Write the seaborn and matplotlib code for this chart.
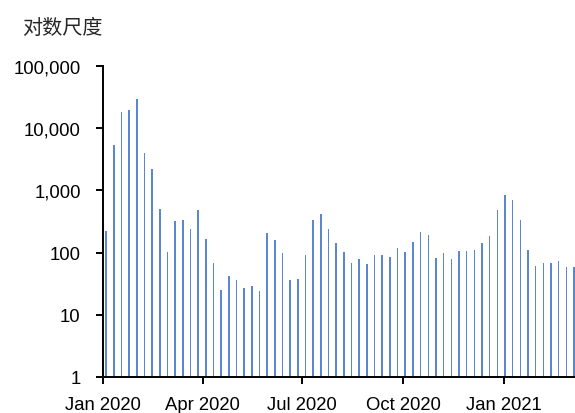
import matplotlib
matplotlib.use("Agg")
import matplotlib.pyplot as plt
import matplotlib.dates as mdates
import matplotlib.ticker as mticker
import numpy as np
import pandas as pd
import seaborn as sns

# Weekly counts, starting the first Saturday of 2020
start_date = "2020-01-04"
weekly_counts = [
    223, 5400, 18000, 20000, 30000, 4000, 2200, 500, 102, 320,
    330, 240, 480, 165, 68, 25, 42, 36, 27, 29,
    24, 210, 160, 100, 36, 37, 93, 340, 420, 240,
    145, 104, 67, 78, 66, 90, 93, 84, 118, 101,
    147, 212, 190, 83, 97, 80, 107, 105, 109, 141,
    183, 480, 836, 693, 340, 112, 60, 67, 67, 72,
    58, 58,
]
y_ticks = [1, 10, 100, 1000, 10000, 100000]
x_tick_dates = ["2020-01-01", "2020-04-01", "2020-07-01", "2020-10-01", "2021-01-01"]
x_tick_labels = ["Jan 2020", "Apr 2020", "Jul 2020", "Oct 2020", "Jan 2021"]
axis_note = "对数尺度"

dates = pd.date_range(start_date, periods=len(weekly_counts), freq="7D")
df = pd.DataFrame({"day": mdates.date2num(dates), "count": weekly_counts})

sns.set_theme(style="white")
plt.rcParams["font.family"] = ["Liberation Sans", "Noto Sans CJK SC", "DejaVu Sans"]

fig = plt.figure(figsize=(5.75, 4.14), dpi=100)
ax = fig.add_axes([0.179, 0.087, 0.821, 0.751])
ax.set_yscale("log")

sns.barplot(data=df, x="day", y="count", native_scale=True, width=0.19,
            color="#5A86D2", saturation=1, linewidth=0, ax=ax)

ax.set_ylim(1, 100000)
ax.set_xlim(mdates.date2num(pd.Timestamp("2020-01-01")),
            mdates.date2num(dates[-1]) + 1.0)

ax.yaxis.set_major_locator(mticker.FixedLocator(y_ticks))
ax.yaxis.set_minor_locator(mticker.NullLocator())
ax.yaxis.set_major_formatter(mticker.FuncFormatter(lambda v, p: f"{int(round(v)):,}"))
ax.set_xticks(mdates.date2num(pd.to_datetime(x_tick_dates)))
ax.set_xticklabels(x_tick_labels)

ax.set_xlabel("")
ax.set_ylabel("")
for side in ["top", "right"]:
    ax.spines[side].set_visible(False)
for side in ["left", "bottom"]:
    ax.spines[side].set_color("black")
    ax.spines[side].set_linewidth(1.4)

ax.tick_params(axis="both", which="major", direction="out", length=5, width=1.4,
               color="black", labelsize=13.3, labelcolor="black")
ax.tick_params(axis="y", left=True, pad=11)
ax.tick_params(axis="x", bottom=True, pad=8.5)

fig.text(0.038, 0.93, axis_note, fontsize=14.5,
         family=["Noto Sans CJK SC", "DejaVu Sans"], ha="left", va="center")

fig.savefig("out.png", dpi=100)
